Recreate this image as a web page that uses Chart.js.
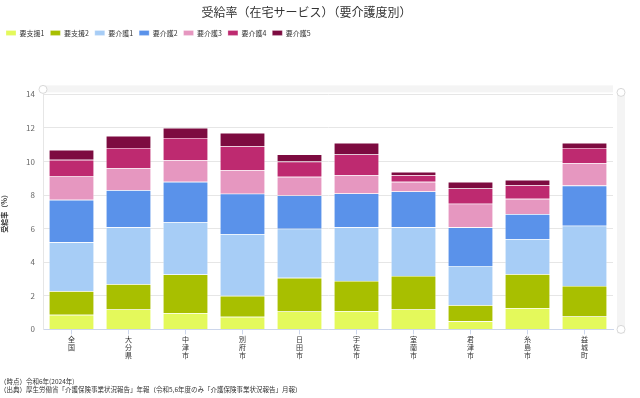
<!DOCTYPE html>
<html lang="ja">
<head>
<meta charset="utf-8">
<script src="https://cdn.jsdelivr.net/npm/chart.js@4"></script>
<style>
    html, body { margin: 0; padding: 0; background: #fff; }
    .chart-wrap { width: 640px; height: 398px; position: relative; }
</style>
</head>
<body>
<div class="chart-wrap"><canvas id="chart"></canvas></div>
<script>
const areas = ['全国', '大分県', '中津市', '別府市', '日田市', '宇佐市', '室蘭市', '君津市', '糸島市', '益城町'];
const seriesNames = ['要支援1', '要支援2', '要介護1', '要介護2', '要介護3', '要介護4', '要介護5'];

const shien1 = [0.87, 1.19, 0.97, 0.75, 1.07, 1.09, 1.19, 0.48, 1.27, 0.77];
const shien2 = [1.41, 1.50, 2.30, 1.25, 2.00, 1.80, 1.99, 0.96, 2.02, 1.82];
const kaigo1 = [2.91, 3.39, 3.12, 3.68, 2.93, 3.19, 2.90, 2.34, 2.08, 3.59];
const kaigo2 = [2.53, 2.21, 2.40, 2.40, 1.98, 2.02, 2.14, 2.30, 1.50, 2.39];
const kaigo3 = [1.39, 1.31, 1.29, 1.40, 1.11, 1.09, 0.57, 1.41, 0.91, 1.33];
const kaigo4 = [0.99, 1.21, 1.33, 1.43, 0.91, 1.23, 0.40, 0.91, 0.81, 0.91];
const kaigo5 = [0.60, 0.72, 0.59, 0.80, 0.42, 0.69, 0.20, 0.39, 0.32, 0.30];

const yTicks = [0, 2, 4, 6, 8, 10, 12, 14];

const colors = ['#e4f95b', '#a8bf00', '#a7cdf6', '#5a92ea', '#e697c0', '#be2a70', '#7d0b40'];
const values = [shien1, shien2, kaigo1, kaigo2, kaigo3, kaigo4, kaigo5];

const font = "'Noto Sans CJK JP', 'Noto Sans', sans-serif";
Chart.defaults.font.family = font;
Chart.defaults.color = '#333';

const legendMargin = {
    id: 'legendMargin',
    beforeInit(chart) {
        const fit = chart.legend.fit;
        chart.legend.fit = function () {
            fit.bind(chart.legend)();
            this.height += 48;
        };
    }
};

// scrollbar look-alike from the original page
const scrollDeco = {
    id: 'scrollDeco',
    beforeDraw(chart) {
        const { ctx, chartArea } = chart;
        ctx.save();
        ctx.fillStyle = '#f4f4f4';
        ctx.fillRect(chartArea.left, chartArea.top - 9, chartArea.right - chartArea.left, 7);
        ctx.fillRect(chartArea.right + 4, chartArea.top - 4, 8, chartArea.bottom - chartArea.top + 8);
        ctx.strokeStyle = '#d8d8d8';
        ctx.fillStyle = '#fff';
        [[chartArea.left, chartArea.top - 5], [chartArea.right + 8, chartArea.top - 2], [chartArea.right + 8, chartArea.bottom]].forEach(p => {
            ctx.beginPath();
            ctx.arc(p[0], p[1], 4, 0, Math.PI * 2);
            ctx.fill();
            ctx.stroke();
        });
        ctx.restore();
    }
};

const data = {
    labels: areas.map(a => a.split('')),
    datasets: seriesNames.map((name, i) => ({
        label: name,
        data: values[i],
        backgroundColor: colors[i],
        borderColor: 'rgba(255,255,255,0.45)',
        borderWidth: 0.6,
        barPercentage: 0.79,
        categoryPercentage: 1
    }))
};

const config = {
    type: 'bar',
    data,
    options: {
        responsive: false,
        animation: false,
        layout: {
            padding: { left: 0, right: 27, top: 0, bottom: 5 }
        },
        plugins: {
            title: {
                display: true,
                text: '受給率（在宅サービス）（要介護度別）',
                font: { size: 12, weight: 'normal' },
                color: '#333',
                padding: { top: 5, bottom: 4 }
            },
            subtitle: {
                display: true,
                position: 'bottom',
                align: 'start',
                text: ['（時点）令和6年(2024年)', '（出典）厚生労働省「介護保険事業状況報告」年報（令和5,6年度のみ「介護保険事業状況報告」月報）'],
                font: { size: 6.5 },
                color: '#333',
                padding: { top: 6, bottom: 0 }
            },
            legend: {
                position: 'top',
                align: 'start',
                labels: {
                    boxWidth: 10,
                    boxHeight: 5,
                    padding: 6,
                    font: { size: 7 },
                    color: '#333'
                }
            },
            tooltip: { enabled: false }
        },
        scales: {
            x: {
                stacked: true,
                grid: {
                    display: true,
                    drawOnChartArea: false,
                    offset: false,
                    tickLength: 5,
                    color: '#ccd6eb'
                },
                border: { color: '#ccd6eb' },
                ticks: {
                    maxRotation: 0,
                    autoSkip: false,
                    font: { size: 7, lineHeight: 1.15 },
                    color: '#333',
                    padding: 1
                },
                afterFit(scale) { scale.height = 42; }
            },
            y: {
                stacked: true,
                min: 0,
                max: 14,
                afterBuildTicks(scale) { scale.ticks = yTicks.map(v => ({ value: v })); },
                grid: { color: '#e6e6e6', drawTicks: false },
                border: { display: true, color: '#e6e6e6' },
                ticks: {
                    font: { size: 8 },
                    color: '#666',
                    padding: 8
                },
                title: {
                    display: true,
                    text: '受給率（%）',
                    font: { size: 7, weight: 'bold' },
                    color: '#333',
                    padding: { top: 0, bottom: 4 }
                },
                afterFit(scale) { scale.width = 43; }
            }
        }
    },
    plugins: [legendMargin, scrollDeco]
};

const canvas = document.getElementById('chart');
canvas.width = 640;
canvas.height = 398;
const myChart = new Chart(canvas, config);
</script>
</body>
</html>
